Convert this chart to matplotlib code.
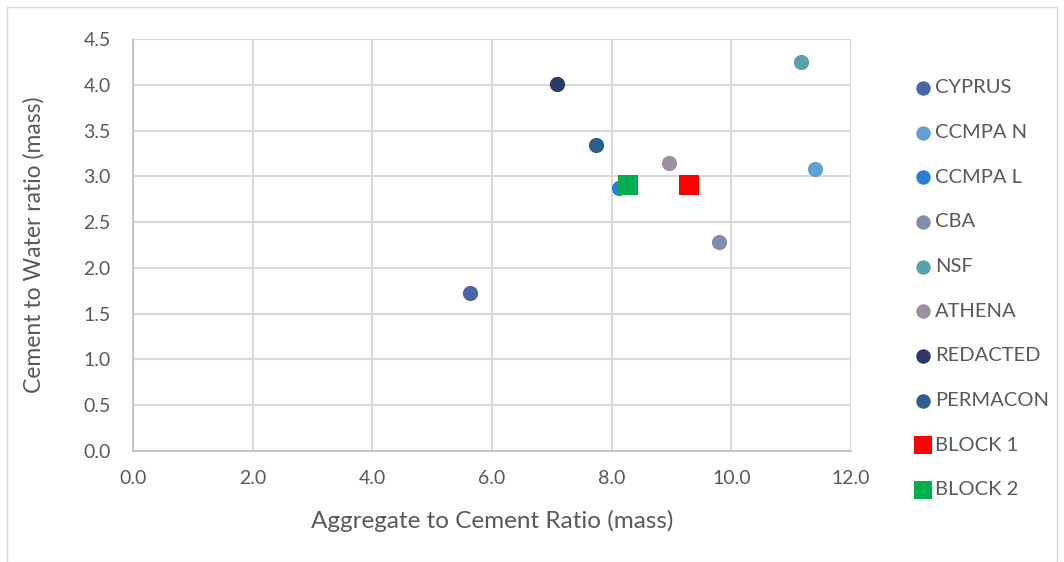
import matplotlib
matplotlib.use("Agg")
import matplotlib.pyplot as plt
from matplotlib.patches import Rectangle

plt.rcParams['font.family'] = ['Lato', 'DejaVu Sans']

# data
names = ["CYPRUS", "CCMPA N", "CCMPA L", "CBA", "NSF", "ATHENA",
         "REDACTED", "PERMACON", "BLOCK 1", "BLOCK 2"]
agg_cement = [5.64, 11.40, 8.12, 9.79, 11.17, 8.95, 7.08, 7.73, 9.29, 8.28]
cement_water = [1.73, 3.08, 2.87, 2.28, 4.25, 3.15, 4.01, 3.34, 2.90, 2.90]
colors = ["#4A65AC", "#649FD3", "#2A7DD9", "#7F8FAA", "#58A3AA", "#9E909F",
          "#283A66", "#2B5F8E", "#FF0000", "#00B050"]
markers = ["o"] * 8 + ["s", "s"]

txt = "#595959"
grid = "#D9D9D9"

fig = plt.figure(figsize=(10.64, 5.62), dpi=100)
ax = fig.add_axes([133 / 1064, 1 - 451 / 562, (851 - 133) / 1064, (451 - 39) / 562])

# outer chart border
fig.patches.append(Rectangle((7 / 1064, 0), 1 - 14 / 1064, 1 - 7 / 562,
                             transform=fig.transFigure, fill=False,
                             edgecolor=grid, lw=1))

for n, x, y, c, m in zip(names, agg_cement, cement_water, colors, markers):
    s = 120 if m == "o" else 200
    ax.scatter(x, y, s=s, c=c, marker=m, label=n, linewidths=0, zorder=3)

ax.set_xlim(0, 12)
ax.set_ylim(0, 4.5)
ax.set_xticks([0, 2, 4, 6, 8, 10, 12])
ax.set_xticklabels([f"{v:.1f}" for v in [0, 2, 4, 6, 8, 10, 12]])
ax.set_yticks([i * 0.5 for i in range(10)])
ax.set_yticklabels([f"{i * 0.5:.1f}" for i in range(10)])
ax.grid(True, color=grid, lw=1.5)
ax.set_axisbelow(True)
ax.tick_params(length=0, colors=txt, labelsize=14)
ax.tick_params(axis="y", pad=16)
ax.tick_params(axis="x", pad=14)
for side in ["top", "right"]:
    ax.spines[side].set_visible(False)
for side in ["left", "bottom"]:
    ax.spines[side].set_color("#BFBFBF")
    ax.spines[side].set_linewidth(1.2)

ax.set_xlabel("Aggregate to Cement Ratio (mass)", fontsize=17.5, color=txt, labelpad=16)
ax.set_ylabel("Cement to Water ratio (mass)", fontsize=16.5, color=txt, labelpad=28)

leg = ax.legend(loc="upper left", bbox_to_anchor=(905 / 1064, 1 - 71 / 562),
                bbox_transform=fig.transFigure, frameon=False, fontsize=14.5,
                labelspacing=1.37, handletextpad=0.1, handlelength=1.0,
                markerscale=0.95, borderaxespad=0)
for t in leg.get_texts():
    t.set_color(txt)

fig.savefig("out.png", dpi=100)
